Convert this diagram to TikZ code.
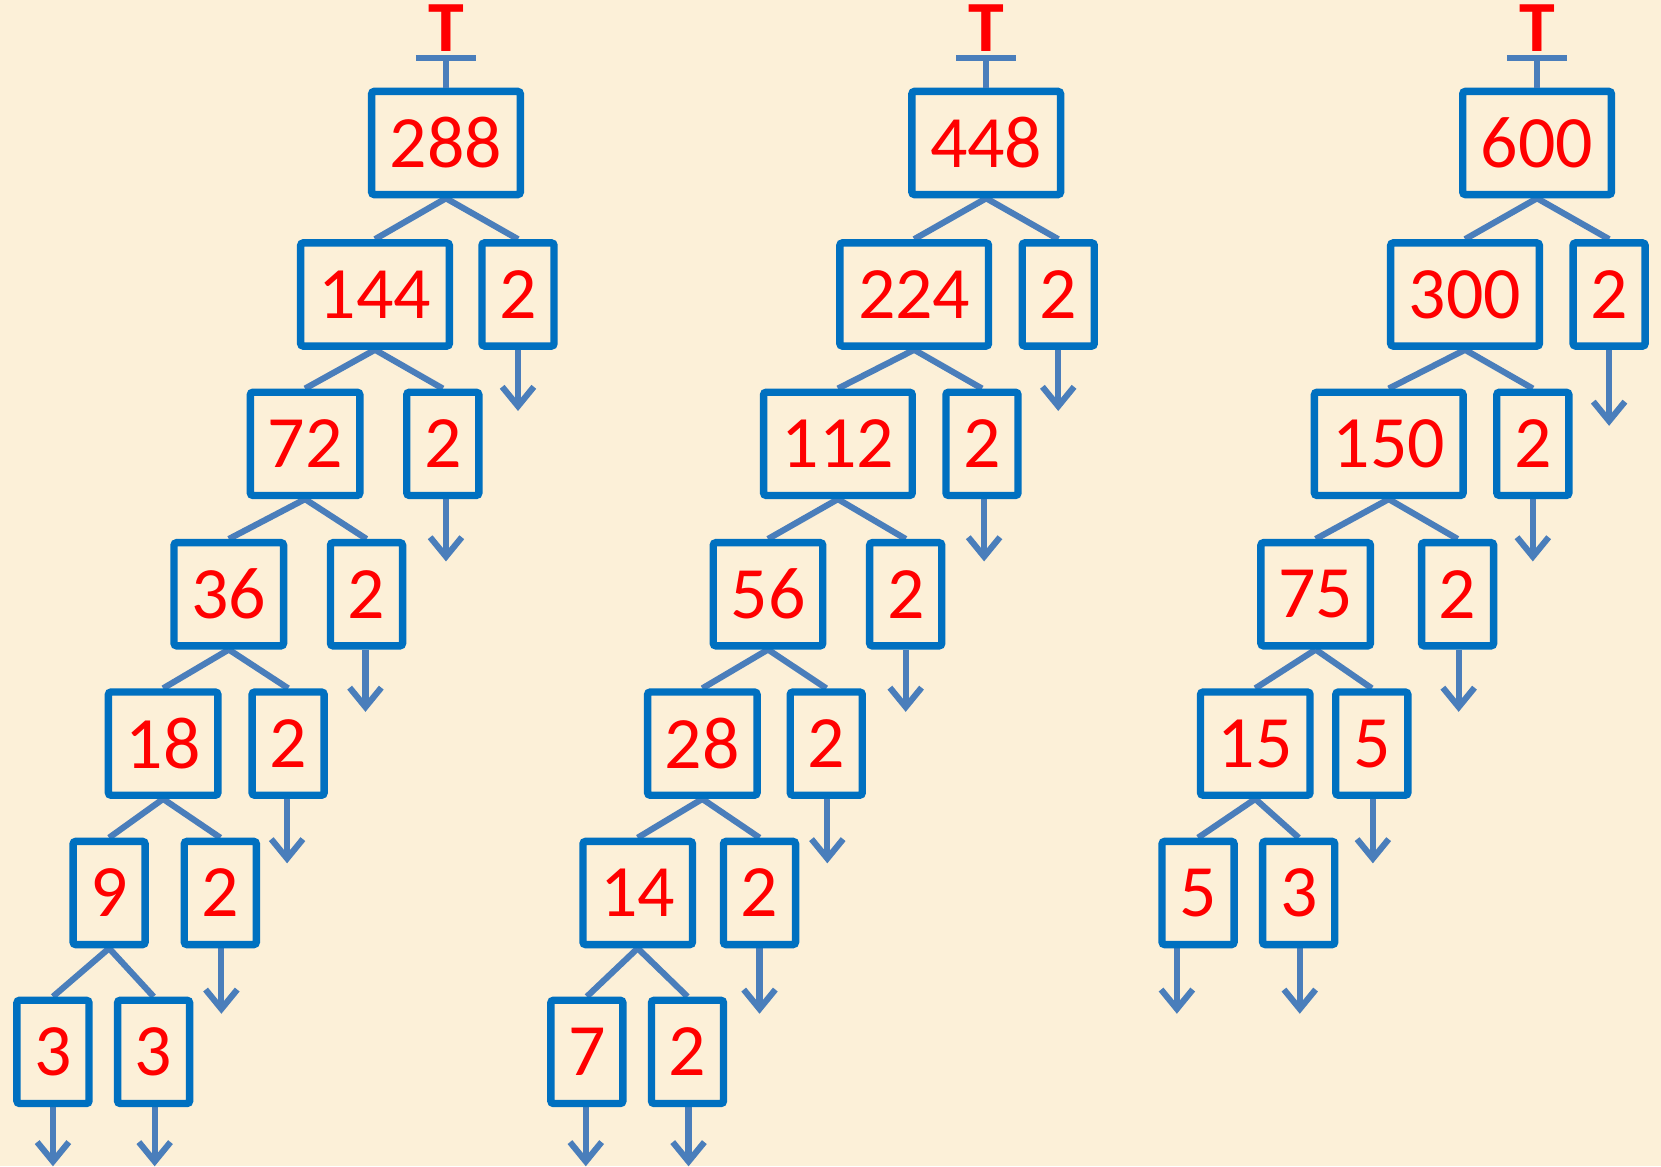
\documentclass[tikz,border=0pt]{standalone}
\usepackage{fontspec}
\setmainfont{Carlito}
\usetikzlibrary{arrows.meta, backgrounds}
\definecolor{parchment}{HTML}{FCF0D8}
\definecolor{boxblue}{HTML}{0070C0}
\definecolor{linkblue}{HTML}{4A7EBB}
\definecolor{digitred}{HTML}{FF0000}
\tikzset{
    factorbox/.style={draw=boxblue, line width=4.2pt, rounded corners=1.5pt,
        minimum height=58.7pt, minimum width=#1, inner sep=0pt,
        text=digitred, font=\fontsize{42}{50}\selectfont},
    factorbox/.default=41pt,
    link/.style={draw=linkblue, line width=3.5pt},
    downarrow/.style={link, -{Straight Barb[length=11pt,width=18pt]}},
}

\begin{document}
\begin{tikzpicture}[x=0.0211865cm, y=-0.0211865cm]
\def\wthree{84.6pt}
\def\wtwo{62.3pt}
\def\wone{41pt}
% Background
\begin{scope}[on background layer]
    \fill[parchment] (0,0) rectangle (1568,1101);
\end{scope}
\useasboundingbox (0,0) rectangle (1568,1101);
% Factor boxes
\foreach \n/\x/\y/\w/\v in {
    l1/421/135/\wthree/288, l2/354/278/\wthree/144, l3/489/278/\wone/2,
    l4/288/419/\wtwo/72, l5/418/419/\wone/2,
    l6/216/561/\wtwo/36, l7/346/561/\wone/2,
    l8/154/702/\wtwo/18, l9/272/702/\wone/2,
    l10/103/843/\wone/9, l11/208/843/\wone/2,
    l12/50/993/\wone/3, l13/145/993/\wone/3,
    m1/931/135/\wthree/448, m2/863/278/\wthree/224, m3/999/278/\wone/2,
    m4/791/419/\wthree/112, m5/927/419/\wone/2,
    m6/725/561/\wtwo/56, m7/855/561/\wone/2,
    m8/663/702/\wtwo/28, m9/780/702/\wone/2,
    m10/602/843/\wtwo/14, m11/717/843/\wone/2,
    m12/554/993/\wone/7, m13/649/993/\wone/2,
    r1/1451/135/\wthree/600, r2/1383/278/\wthree/300, r3/1519/278/\wone/2,
    r4/1311/419/\wthree/150, r5/1447/419/\wone/2,
    r6/1242/561/\wtwo/75, r7/1376/561/\wone/2,
    r8/1185/702/\wtwo/15, r9/1295/702/\wone/5,
    r10/1131/843/\wone/5, r11/1226/843/\wone/3}{
    \node[factorbox=\w] (\n) at (\x,\y) {\v};
}
% Branches and arrows behind the boxes
\begin{scope}[on background layer]
\foreach \p/\c in {
    l1/l2, l1/l3, l2/l4, l2/l5, l4/l6, l4/l7,
    l6/l8, l6/l9, l8/l10, l8/l11, l10/l12, l10/l13,
    m1/m2, m1/m3, m2/m4, m2/m5, m4/m6, m4/m7,
    m6/m8, m6/m9, m8/m10, m8/m11, m10/m12, m10/m13,
    r1/r2, r1/r3, r2/r4, r2/r5, r4/r6, r4/r7,
    r6/r8, r6/r9, r8/r10, r8/r11}{
    \draw[link] (\p.south) -- (\c.north);
}
\foreach \n/\ex/\ey in {
    l3/489/388, l5/421/530, l7/345/672, l9/271/815,
    l11/209/957, l12/50/1101, l13/146/1101,
    m3/999/388, m5/929/530, m7/855/672, m9/781/815,
    m11/717/957, m12/553/1101, m13/650/1101,
    r3/1519/402, r5/1447/530, r7/1377/672, r9/1296/815,
    r10/1111/957, r11/1227/957}{
    \coordinate (\n-end) at (\ex,\ey);
    \draw[downarrow] (\n.south -| \n-end) -- (\n-end);
}
\end{scope}
% Top markers
\foreach \n/\x in {l1/421, m1/931, r1/1451}{
    \coordinate (\n-top) at (\x,55);
    \draw[link] (\n-top) -- (\n.north);
    \draw[link] (\n-top) ++(-28.5,0) -- ++(57,0);
    \node[font=\bfseries\fontsize{41}{48}\selectfont, text=digitred,
        anchor=base, inner sep=0pt] (\n-mark) at (\x,49) {T};
}
\end{tikzpicture}
\end{document}
